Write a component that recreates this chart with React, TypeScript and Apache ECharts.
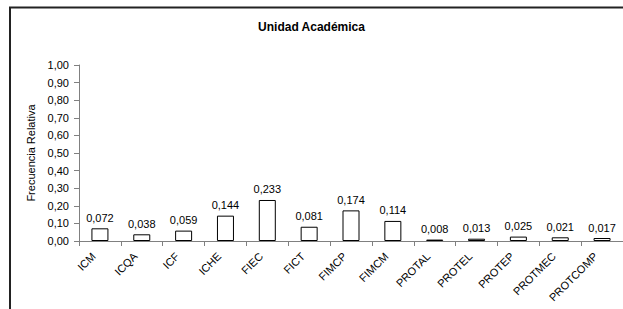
import React, { useEffect, useRef } from "react";
import * as echarts from "echarts";

const categories = ["ICM", "ICQA", "ICF", "ICHE", "FIEC", "FICT", "FIMCP", "FIMCM", "PROTAL", "PROTEL", "PROTEP", "PROTMEC", "PROTCOMP"];
const values = [0.072, 0.038, 0.059, 0.144, 0.233, 0.081, 0.174, 0.114, 0.008, 0.013, 0.025, 0.021, 0.017];

const fmt = (v: number, d: number) => v.toFixed(d).replace(".", ",");
const FONT = "Liberation Sans, Arial, sans-serif";

export default function App() {
  const ref = useRef<HTMLDivElement>(null);
  useEffect(() => {
    document.body.style.margin = "0";
    const chart = echarts.init(ref.current!, null, { renderer: "svg" });
    chart.setOption({
      animation: false,
      backgroundColor: "#ffffff",
      textStyle: { fontFamily: FONT },
      title: {
        text: "Unidad Académica",
        left: "center",
        top: 16,
        textStyle: { fontSize: 12, fontWeight: "bold", color: "#000", fontFamily: FONT },
      },
      graphic: [
        {
          type: "rect",
          shape: { x: 10, y: 7.5, width: 630, height: 320 },
          style: { fill: "none", stroke: "#222", lineWidth: 2 },
          silent: true,
        },
      ],
      grid: { left: 79, top: 65, width: 547, height: 176, containLabel: false },
      xAxis: {
        type: "category",
        data: categories,
        axisLine: { lineStyle: { color: "#808080", width: 1 } },
        axisTick: { show: true, length: 5, alignWithLabel: false, lineStyle: { color: "#808080" } },
        axisLabel: {
          rotate: 45,
          interval: 0,
          margin: 7,
          padding: [0, 9, 0, 0],
          color: "#000",
          fontSize: 11,
          fontFamily: FONT,
        },
      },
      yAxis: {
        type: "value",
        min: 0,
        max: 1,
        interval: 0.1,
        name: "Frecuencia Relativa",
        nameLocation: "middle",
        nameGap: 42,
        nameRotate: 90,
        nameTextStyle: { fontSize: 11, color: "#000", fontFamily: FONT },
        axisLine: { show: true, lineStyle: { color: "#808080", width: 1 } },
        axisTick: { show: true, length: 5, lineStyle: { color: "#808080" } },
        splitLine: { show: false },
        axisLabel: {
          margin: 10,
          color: "#000",
          fontSize: 11,
          fontFamily: FONT,
          formatter: (v: number) => fmt(v, 2),
        },
      },
      series: [
        {
          type: "bar",
          data: values,
          barWidth: 17,
          itemStyle: { color: "#ffffff", borderColor: "#000", borderWidth: 1 },
          label: {
            show: true,
            position: "top",
            distance: 5,
            color: "#000",
            fontSize: 11,
            fontFamily: FONT,
            formatter: (p: any) => fmt(p.value, 3),
          },
        },
      ],
    });
    return () => chart.dispose();
  }, []);
  return <div ref={ref} style={{ width: 623, height: 309 }} />;
}
